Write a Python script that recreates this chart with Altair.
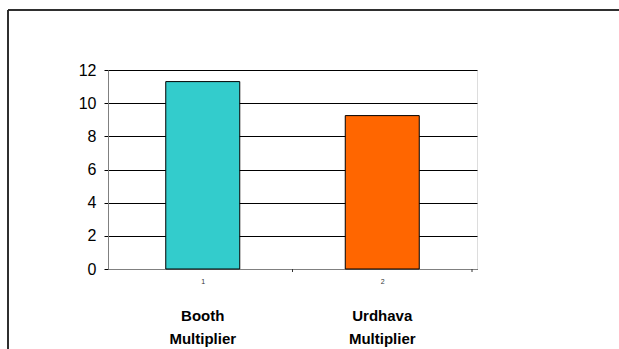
import altair as alt
import pandas as pd

categories = ["Booth\nMultiplier", "Urdhava\nMultiplier"]
positions = [1, 2]
values = [11.3, 9.25]
colors = ["#33CCCC", "#FF6600"]
boundaries = [1.5, 2.5]

df = pd.DataFrame({"pos": positions, "value": values, "cat": categories, "color": colors})
bdf = pd.DataFrame({"b": boundaries})

W, H = 369, 199
xscale = alt.Scale(domain=[0.5, 2.5], nice=False, zero=False)
xaxis = alt.Axis(values=positions, ticks=False, grid=False, domainColor="#808080",
                 labelFontSize=7, labelColor="#333333", labelPadding=8,
                 labelFont="Liberation Sans", format="d")

bars = alt.Chart(df).mark_bar(size=74, stroke="black", strokeWidth=1).encode(
    x=alt.X("pos:Q", scale=xscale, title=None, axis=xaxis),
    y=alt.Y("value:Q", scale=alt.Scale(domain=[0, 12], nice=False), title=None,
            axis=alt.Axis(values=[0, 2, 4, 6, 8, 10, 12], grid=True, gridColor="#000000",
                          gridWidth=1, gridOpacity=1, domainColor="#808080", tickColor="#000000",
                          tickSize=4, labelFontSize=16, labelColor="#000000", labelPadding=8,
                          labelFont="Liberation Sans")),
    color=alt.Color("color:N", scale=None),
)

ticks = alt.Chart(bdf).mark_rule(color="#333333", strokeWidth=1).encode(
    x=alt.X("b:Q", scale=xscale, title=None, axis=xaxis),
    y=alt.value(H),
    y2=alt.value(H + 3),
)

labels = alt.Chart(df).mark_text(
    lineBreak="\n", fontSize=15, fontWeight="bold", font="Liberation Sans",
    color="#000000", baseline="alphabetic", lineHeight=23,
).encode(
    x=alt.X("pos:Q", scale=xscale, title=None, axis=xaxis),
    y=alt.value(251),
    text="cat:N",
)

frame_left = alt.Chart(bdf).mark_rule(color="#222222", strokeWidth=1.5).encode(
    x=alt.value(-100), y=alt.value(-60), y2=alt.value(H + 90)
)
frame_top = alt.Chart(bdf).mark_rule(color="#222222", strokeWidth=1.5).encode(
    x=alt.value(-100), x2=alt.value(W + 150), y=alt.value(-60)
)

chart = alt.layer(bars, ticks, labels, frame_left, frame_top).properties(
    width=W, height=H,
    autosize=alt.AutoSizeParams(type="none"),
    padding={"left": 108, "top": 70, "right": 142, "bottom": 80},
).configure_view(stroke=None).configure(background="white")

chart.save("out.html", embed_options={"renderer": "svg", "actions": False})
